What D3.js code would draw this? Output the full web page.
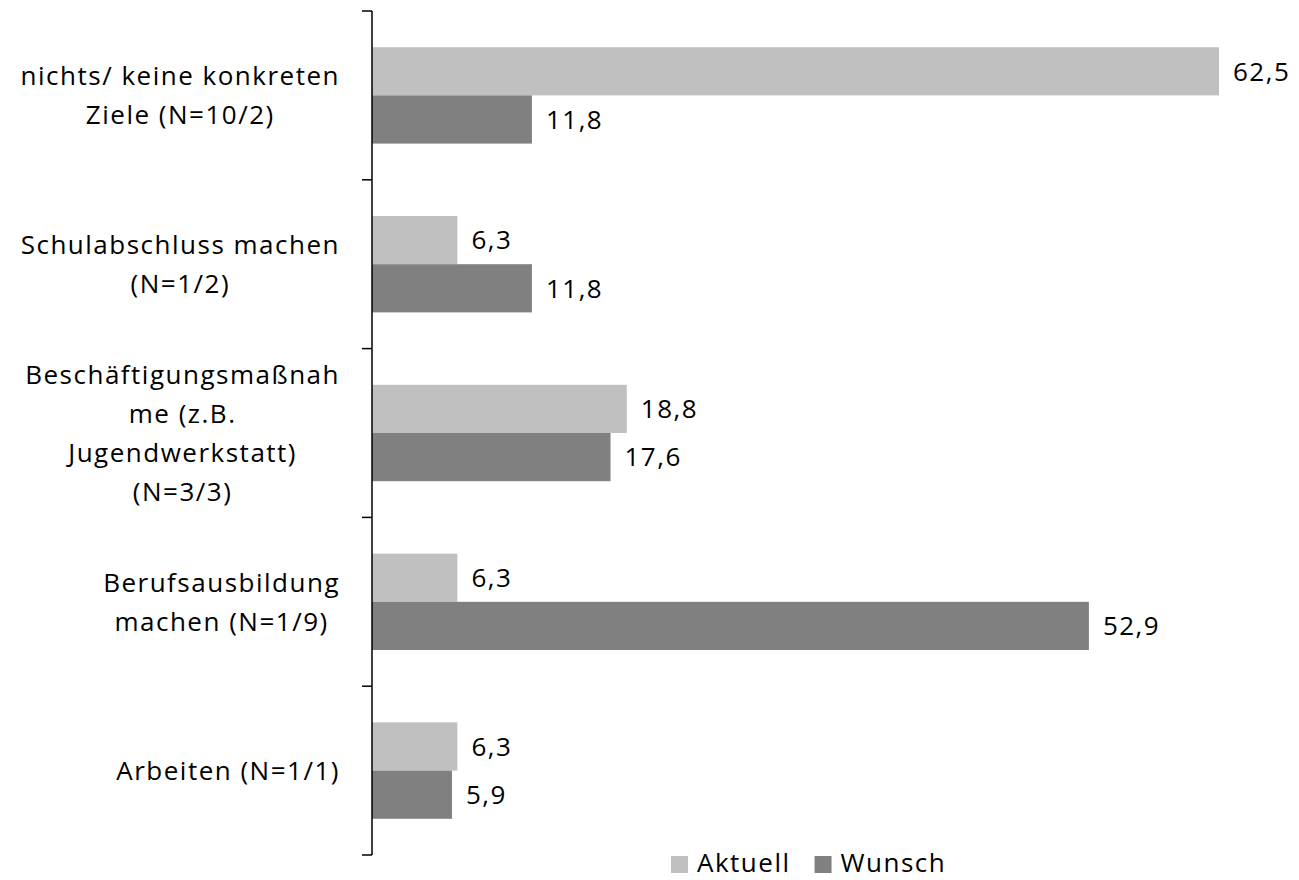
<!DOCTYPE html>
<html>
<head>
<meta charset="utf-8">
<script src="https://cdn.jsdelivr.net/npm/d3@7"></script>
<style>
  body { margin: 0; background: #fff; }
  text { font-family: "Open Sans", sans-serif; letter-spacing: 1.5px; fill: #000; }
</style>
</head>
<body>
<div id="wrapper"></div>
<script>
// DATA
const categories = [
  [`nichts/ keine konkreten`, `Ziele (N=10/2)`],
  [`Schulabschluss machen`, `(N=1/2)`],
  [`Beschäftigungsmaßnah`, `me (z.B.`, `Jugendwerkstatt)`, `(N=3/3)`],
  [`Berufsausbildung`, `machen (N=1/9)`],
  [`Arbeiten (N=1/1)`]
];
const aktuell = [62.5, 6.3, 18.8, 6.3, 6.3];
const wunsch = [11.8, 11.8, 17.6, 52.9, 5.9];
const seriesNames = [`Aktuell`, `Wunsch`];

// CONSTANTS
const WIDTH = 1299;
const HEIGHT = 880;
const AXIS_X = 372;
const PLOT_TOP = 11;
const PLOT_BOTTOM = 855;
const PLOT_RIGHT = 1219;
const FONT_SIZE = 26;
const LINE_HEIGHT = 39;
const COLORS = [`#c0c0c0`, `#808080`];

const formatValue = v => d3.format(`.1f`)(v).replace(`.`, `,`);

const rows = categories.map((lines, i) => ({
  id: i,
  lines,
  values: [aktuell[i], wunsch[i]]
}));

const svg = d3.select(`#wrapper`)
  .append(`svg`)
  .attr(`width`, WIDTH)
  .attr(`height`, HEIGHT);

// SCALES
const yScale = d3.scaleBand()
  .domain(rows.map(d => d.id))
  .range([PLOT_TOP, PLOT_BOTTOM])
  .paddingInner(0.429)
  .paddingOuter(0.2145);

const seriesScale = d3.scaleBand()
  .domain(seriesNames)
  .range([0, yScale.bandwidth()]);

const xScale = d3.scaleLinear()
  .domain([0, d3.max([...aktuell, ...wunsch])])
  .range([AXIS_X, PLOT_RIGHT]);

// BARS
const group = svg.selectAll(`.group`)
  .data(rows)
  .enter()
  .append(`g`)
  .attr(`class`, `group`)
  .attr(`transform`, d => `translate(0, ${yScale(d.id)})`);

const bar = group.selectAll(`.bar`)
  .data(d => d.values.map((value, i) => ({ series: seriesNames[i], value, i })))
  .enter()
  .append(`g`)
  .attr(`class`, `bar`);

bar.append(`rect`)
  .attr(`x`, xScale(0))
  .attr(`y`, d => seriesScale(d.series))
  .attr(`width`, d => xScale(d.value) - xScale(0))
  .attr(`height`, seriesScale.bandwidth())
  .attr(`fill`, d => COLORS[d.i]);

bar.append(`text`)
  .attr(`x`, d => xScale(d.value) + 14)
  .attr(`y`, d => seriesScale(d.series) + seriesScale.bandwidth() / 2)
  .attr(`dy`, `0.36em`)
  .attr(`font-size`, FONT_SIZE)
  .text(d => formatValue(d.value));

// AXIS
const outerY = d3.scaleLinear()
  .domain([0, rows.length])
  .range([PLOT_TOP, PLOT_BOTTOM]);

const axis = svg.append(`g`).attr(`id`, `y-axis`);

axis.append(`line`)
  .attr(`x1`, AXIS_X).attr(`x2`, AXIS_X)
  .attr(`y1`, PLOT_TOP).attr(`y2`, PLOT_BOTTOM)
  .attr(`stroke`, `#000`)
  .attr(`stroke-width`, 1.5);

axis.selectAll(`.tick`)
  .data(d3.range(rows.length + 1))
  .enter()
  .append(`line`)
  .attr(`class`, `tick`)
  .attr(`x1`, AXIS_X - 10).attr(`x2`, AXIS_X)
  .attr(`y1`, d => outerY(d)).attr(`y2`, d => outerY(d))
  .attr(`stroke`, `#000`)
  .attr(`stroke-width`, 1.5);

// CATEGORY LABELS
const label = svg.selectAll(`.label`)
  .data(rows)
  .enter()
  .append(`text`)
  .attr(`class`, `label`)
  .attr(`font-size`, FONT_SIZE)
  .attr(`text-anchor`, `middle`);

label.each(function (d) {
  const el = d3.select(this);
  const center = yScale(d.id) + yScale.bandwidth() / 2;
  const n = d.lines.length;
  d.lines.forEach((line, i) => {
    el.append(`tspan`)
      .attr(`y`, center + (i - (n - 1) / 2) * LINE_HEIGHT)
      .attr(`dy`, `0.36em`)
      .text(line);
  });
  const maxWidth = d3.max(el.selectAll(`tspan`).nodes(), t => t.getComputedTextLength());
  const cx = Math.max(AXIS_X - 32 - maxWidth / 2, maxWidth / 2 + 18);
  el.selectAll(`tspan`).attr(`x`, cx);
});

// LEGEND
const legend = svg.append(`g`)
  .attr(`id`, `legend`)
  .attr(`transform`, `translate(671, 856)`);

let offset = 0;
seriesNames.forEach((name, i) => {
  const item = legend.append(`g`).attr(`transform`, `translate(${offset}, 0)`);
  item.append(`rect`)
    .attr(`width`, 17)
    .attr(`height`, 17)
    .attr(`fill`, COLORS[i]);
  const text = item.append(`text`)
    .attr(`x`, 26)
    .attr(`y`, 16)
    .attr(`font-size`, FONT_SIZE)
    .text(name);
  offset += 26 + text.node().getComputedTextLength() + 24;
});
</script>
</body>
</html>
